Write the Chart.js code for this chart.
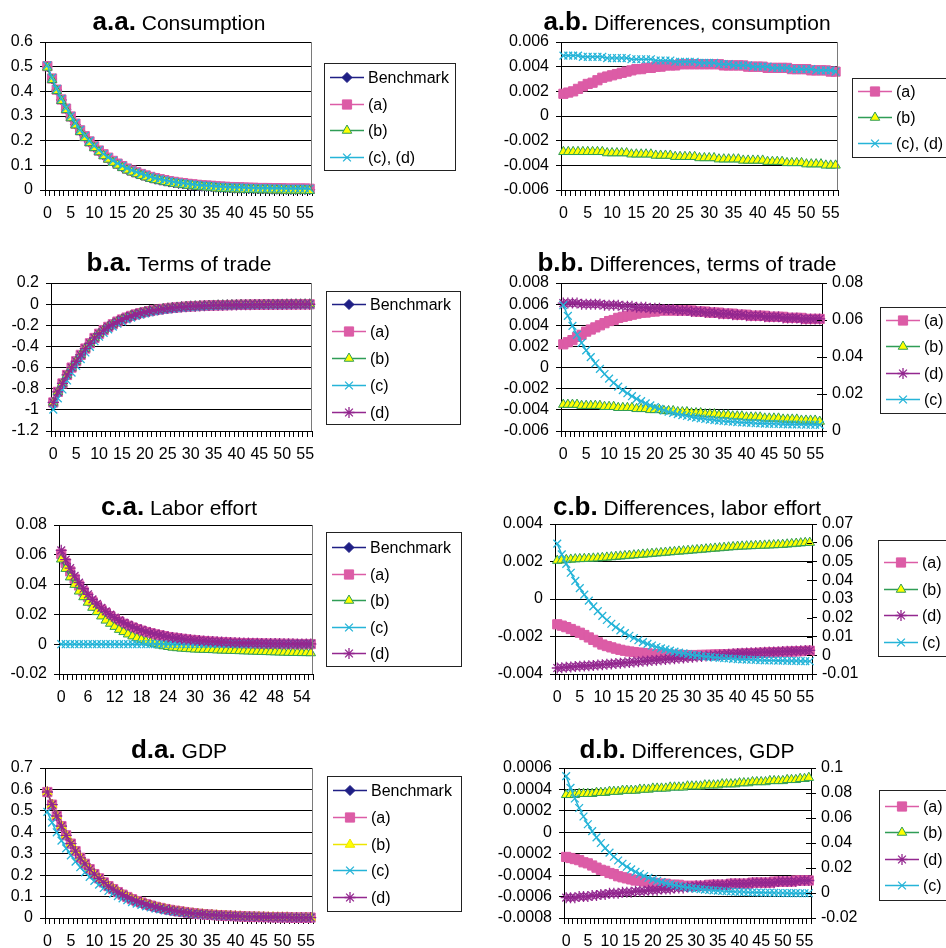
<!DOCTYPE html>
<html>
<head>
<meta charset="utf-8">
<script src="https://cdn.jsdelivr.net/npm/chart.js@4.4.1/dist/chart.umd.min.js"></script>
<style>
  html, body { margin: 0; padding: 0; background: #fff; }
  body { width: 946px; height: 948px; position: relative; overflow: hidden; }
  canvas { position: absolute; }
</style>
</head>
<body>
<canvas id="pAA"></canvas>
<canvas id="pAB"></canvas>
<canvas id="pBA"></canvas>
<canvas id="pBB"></canvas>
<canvas id="pCA"></canvas>
<canvas id="pCB"></canvas>
<canvas id="pDA"></canvas>
<canvas id="pDB"></canvas>
<script>
// Periods after the shock (x-axis categories)
const periods = ['0','1','2','3','4','5','6','7','8','9','10','11','12','13','14','15','16','17','18','19',
  '20','21','22','23','24','25','26','27','28','29','30','31','32','33','34','35','36','37','38','39',
  '40','41','42','43','44','45','46','47','48','49','50','51','52','53','54','55','56'];

// ---- a.a Consumption (levels)
const consBench = [.500,.450,.405,.365,.328,.295,.266,.239,.215,.194,.174,.157,.141,.127,.114,.103,.093,.083,.075,.068,
  .061,.055,.049,.044,.040,.036,.032,.029,.026,.024,.021,.019,.017,.015,.014,.013,.011,.010,.009,.008,
  .007,.007,.006,.005,.005,.004,.004,.004,.003,.003,.003,.002,.002,.002,.002,.002,.001];
const consA = [.502,.452,.407,.367,.330,.298,.269,.242,.218,.197,.177,.160,.145,.131,.118,.107,.097,.087,.079,.072,
  .065,.059,.053,.048,.044,.040,.036,.033,.030,.028,.025,.023,.021,.019,.018,.017,.015,.014,.013,.012,
  .011,.011,.010,.009,.009,.008,.008,.008,.007,.007,.007,.006,.006,.006,.006,.006,.005];
const consB = [.497,.447,.402,.362,.325,.292,.263,.236,.212,.191,.171,.154,.138,.124,.111,.100,.090,.080,.072,.065,
  .058,.052,.046,.041,.037,.033,.029,.026,.023,.021,.018,.016,.014,.012,.011,.010,.007,.006,.005,.004,
  .003,.003,.002,.001,.001,.000,.000,.000,-.001,-.001,-.001,-.002,-.002,-.002,-.002,-.002,-.003];
const consCD = [.505,.455,.410,.370,.333,.300,.271,.244,.220,.199,.179,.162,.146,.132,.119,.108,.098,.088,.080,.073,
  .066,.060,.054,.048,.044,.040,.036,.033,.030,.028,.025,.023,.021,.019,.018,.017,.015,.014,.013,.012,
  .011,.011,.010,.009,.009,.008,.008,.008,.007,.007,.007,.006,.006,.006,.006,.006,.005];

// ---- a.b Differences, consumption
const consDiffA = [.0018,.0019,.0020,.0022,.0024,.0026,.0027,.0029,.0031,.0032,.0033,.0034,.0035,.0036,.0037,.0038,.0038,.0039,.0039,.0040,
  .0040,.0041,.0041,.0041,.0042,.0042,.0042,.0042,.0042,.0042,.0042,.0042,.0042,.0041,.0041,.0041,.0041,.0041,.0040,.0040,
  .0040,.0040,.0039,.0039,.0039,.0039,.0039,.0038,.0038,.0038,.0038,.0037,.0037,.0037,.0037,.0036,.0036];
const consDiffB = [-.0029,-.0029,-.0029,-.0029,-.0029,-.0029,-.0029,-.0029,-.0029,-.0030,-.0030,-.0030,-.0030,-.0030,-.0031,-.0031,-.0031,-.0031,-.0031,-.0032,
  -.0032,-.0032,-.0032,-.0033,-.0033,-.0033,-.0033,-.0033,-.0034,-.0034,-.0034,-.0034,-.0035,-.0035,-.0035,-.0035,-.0035,-.0036,-.0036,-.0036,
  -.0036,-.0036,-.0037,-.0037,-.0037,-.0037,-.0038,-.0038,-.0038,-.0038,-.0039,-.0039,-.0039,-.0039,-.0040,-.0040,-.0040];
const consDiffCD = [.0049,.0049,.0049,.0049,.0048,.0048,.0048,.0048,.0048,.0047,.0047,.0047,.0047,.0047,.0046,.0046,.0046,.0046,.0046,.0045,
  .0045,.0045,.0045,.0044,.0044,.0044,.0044,.0044,.0043,.0043,.0043,.0043,.0042,.0042,.0042,.0041,.0041,.0041,.0041,.0040,
  .0040,.0040,.0040,.0039,.0039,.0039,.0039,.0038,.0038,.0038,.0038,.0038,.0037,.0037,.0037,.0037,.0036];

// ---- b.a Terms of trade (levels); (a), (b), (d) stay within 0.006 of the benchmark path
const totBench = [-.930,-.830,-.750,-.670,-.600,-.540,-.480,-.420,-.370,-.320,-.280,-.245,-.215,-.190,-.165,-.145,-.127,-.111,-.097,-.085,
  -.075,-.066,-.058,-.051,-.045,-.040,-.035,-.031,-.027,-.024,-.021,-.019,-.017,-.015,-.013,-.012,-.011,-.010,-.009,-.008,
  -.007,-.006,-.0055,-.005,-.0045,-.004,-.0036,-.0032,-.0029,-.0026,-.0023,-.0021,-.0019,-.0017,-.0015,-.0014,-.0012];
const totC = [-.998,-.892,-.807,-.722,-.648,-.584,-.520,-.457,-.404,-.351,-.308,-.271,-.239,-.212,-.185,-.164,-.144,-.127,-.112,-.099,
  -.088,-.078,-.069,-.061,-.055,-.049,-.044,-.039,-.035,-.031,-.028,-.026,-.023,-.021,-.019,-.017,-.016,-.015,-.014,-.013,
  -.012,-.010,-.010,-.009,-.009,-.008,-.008,-.007,-.007,-.006,-.006,-.006,-.005,-.005,-.005,-.005,-.005];

// ---- b.b Differences, terms of trade ((c) on the right axis)
const totDiffA = [.0022,.0024,.0026,.0029,.0031,.0034,.0036,.0038,.0040,.0042,.0044,.0045,.0047,.0048,.0049,.0050,.0051,.0052,.0052,.0053,
  .0053,.0054,.0054,.0054,.0054,.0054,.0054,.0054,.0054,.0053,.0053,.0053,.0052,.0052,.0052,.0051,.0051,.0051,.0050,.0050,
  .0050,.0049,.0049,.0049,.0049,.0048,.0048,.0048,.0048,.0047,.0047,.0047,.0047,.0046,.0046,.0046,.0046];
const totDiffB = [-.0035,-.0035,-.0035,-.0035,-.0036,-.0036,-.0036,-.0036,-.0036,-.0037,-.0037,-.0037,-.0038,-.0038,-.0038,-.0038,-.0039,-.0039,-.0039,-.0040,
  -.0040,-.0040,-.0041,-.0041,-.0041,-.0042,-.0042,-.0042,-.0043,-.0043,-.0043,-.0044,-.0044,-.0044,-.0045,-.0045,-.0045,-.0046,-.0046,-.0046,
  -.0047,-.0047,-.0047,-.0047,-.0048,-.0048,-.0048,-.0048,-.0049,-.0049,-.0049,-.0049,-.0050,-.0050,-.0050,-.0050,-.0051];
const totDiffD = [.0061,.0061,.0061,.0061,.0060,.0060,.0060,.0060,.0060,.0059,.0059,.0059,.0059,.0058,.0058,.0058,.0057,.0057,.0057,.0056,
  .0056,.0056,.0055,.0055,.0055,.0054,.0054,.0054,.0053,.0053,.0053,.0052,.0052,.0052,.0051,.0051,.0051,.0050,.0050,.0050,
  .0049,.0049,.0049,.0049,.0048,.0048,.0048,.0048,.0047,.0047,.0047,.0047,.0046,.0046,.0046,.0046,.0046];
const totDiffC = [.0680,.0622,.0568,.0520,.0476,.0436,.0399,.0366,.0336,.0308,.0283,.0260,.0240,.0221,.0204,.0188,.0174,.0161,.0149,.0138,
  .0129,.0120,.0112,.0104,.0098,.0091,.0086,.0081,.0076,.0072,.0068,.0065,.0062,.0059,.0056,.0054,.0052,.0050,.0048,.0046,
  .0045,.0044,.0042,.0041,.0040,.0039,.0039,.0038,.0037,.0036,.0036,.0035,.0035,.0034,.0034,.0034,.0033];

// ---- c.a Labor effort (levels)
const laborBench = [.0600,.0539,.0485,.0436,.0391,.0352,.0316,.0284,.0256,.0231,.0208,.0187,.0168,.0151,.0136,.0123,.0111,.0100,.0090,.0081,
  .0073,.0066,.0059,.0053,.0048,.0043,.0039,.0035,.0032,.0029,.0026,.0023,.0020,.0018,.0016,.0015,.0013,.0011,.0010,.0009,
  .0008,.0007,.0006,.0005,.0005,.0004,.0003,.0003,.0003,.0002,.0002,.0002,.0001,.0001,.0001,.0001,.0000];
const laborA = [.0606,.0544,.0489,.0439,.0394,.0354,.0318,.0286,.0257,.0232,.0209,.0188,.0169,.0152,.0137,.0124,.0112,.0101,.0091,.0082,
  .0074,.0066,.0060,.0054,.0048,.0044,.0040,.0036,.0032,.0029,.0026,.0023,.0021,.0018,.0017,.0015,.0013,.0012,.0010,.0009,
  .0008,.0007,.0007,.0006,.0005,.0004,.0004,.0003,.0003,.0003,.0002,.0002,.0002,.0001,.0001,.0001,.0001];
const laborB = [.0570,.0507,.0450,.0400,.0355,.0317,.0280,.0246,.0217,.0188,.0160,.0139,.0118,.0098,.0083,.0067,.0054,.0042,.0031,.0020,
  .0011,.0002,-.0007,-.0012,-.0017,-.0022,-.0025,-.0028,-.0030,-.0032,-.0034,-.0035,-.0036,-.0037,-.0038,-.0040,-.0041,-.0042,-.0043,-.0044,
  -.0045,-.0046,-.0047,-.0048,-.0049,-.0050,-.0051,-.0052,-.0053,-.0054,-.0055,-.0056,-.0057,-.0057,-.0058,-.0058,-.0059];
const laborC = [.0000,.0000,.0000,.0000,.0000,.0000,.0000,.0000,.0000,.0000,.0000,.0000,.0000,.0000,.0000,.0000,.0000,.0000,.0000,.0000,
  .0001,.0001,.0001,.0001,.0001,.0001,.0001,.0001,.0001,.0001,.0002,.0002,.0002,.0002,.0002,.0002,.0002,.0002,.0002,.0002,
  .0002,.0002,.0002,.0002,.0002,.0002,.0002,.0002,.0002,.0002,.0002,.0002,.0002,.0002,.0002,.0002,.0002];
const laborD = [.0630,.0567,.0510,.0459,.0413,.0372,.0335,.0301,.0271,.0244,.0220,.0198,.0178,.0160,.0144,.0130,.0117,.0105,.0095,.0085,
  .0077,.0069,.0062,.0056,.0050,.0045,.0041,.0037,.0033,.0030,.0027,.0024,.0022,.0019,.0018,.0016,.0014,.0013,.0011,.0010,
  .0009,.0008,.0008,.0007,.0006,.0005,.0005,.0004,.0004,.0004,.0003,.0003,.0003,.0002,.0002,.0002,.0002];

// ---- c.b Differences, labor effort ((c) on the right axis)
const laborDiffA = [-.00135,-.00142,-.00150,-.00160,-.00170,-.00180,-.00192,-.00205,-.00218,-.00231,-.00243,-.00251,-.00258,-.00265,-.00271,-.00276,-.00280,-.00283,-.00286,-.00288,
  -.00290,-.00292,-.00294,-.00295,-.00296,-.00297,-.00298,-.00298,-.00299,-.00299,-.00299,-.00299,-.00298,-.00298,-.00297,-.00296,-.00296,-.00295,-.00294,-.00293,
  -.00292,-.00291,-.00290,-.00289,-.00288,-.00287,-.00286,-.00285,-.00284,-.00283,-.00282,-.00281,-.00280,-.00279,-.00278,-.00277,-.00276];
const laborDiffB = [.00205,.00207,.00209,.00211,.00213,.00214,.00215,.00216,.00217,.00218,.00220,.00222,.00224,.00226,.00228,.00230,.00232,.00234,.00236,.00238,
  .00240,.00242,.00244,.00246,.00248,.00250,.00252,.00254,.00256,.00258,.00260,.00262,.00264,.00266,.00268,.00270,.00272,.00274,.00276,.00278,
  .00280,.00281,.00282,.00283,.00284,.00285,.00286,.00287,.00288,.00289,.00290,.00292,.00294,.00296,.00298,.00300,.00301];
const laborDiffD = [-.00368,-.00366,-.00364,-.00362,-.00360,-.00358,-.00357,-.00356,-.00354,-.00352,-.00350,-.00348,-.00346,-.00344,-.00342,-.00340,-.00338,-.00336,-.00334,-.00332,
  -.00330,-.00328,-.00326,-.00324,-.00322,-.00320,-.00318,-.00316,-.00314,-.00312,-.00310,-.00308,-.00306,-.00304,-.00302,-.00300,-.00298,-.00296,-.00294,-.00292,
  -.00290,-.00289,-.00288,-.00287,-.00286,-.00285,-.00284,-.00283,-.00282,-.00281,-.00280,-.00279,-.00278,-.00277,-.00276,-.00275,-.00274];
const laborDiffC = [.0595,.0538,.0487,.0440,.0397,.0358,.0323,.0291,.0261,.0235,.0210,.0188,.0168,.0150,.0133,.0118,.0104,.0092,.0080,.0070,
  .0061,.0052,.0044,.0037,.0031,.0025,.0019,.0014,.0010,.0006,.0002,-.0001,-.0004,-.0007,-.0009,-.0012,-.0014,-.0016,-.0017,-.0019,
  -.0021,-.0022,-.0023,-.0024,-.0025,-.0026,-.0027,-.0028,-.0028,-.0029,-.0029,-.0030,-.0030,-.0030,-.0031,-.0031,-.0032];

// ---- d.a GDP (levels); (a), (b), (d) stay within 0.001 of the benchmark path
const gdpBench = [.588,.529,.476,.429,.386,.347,.312,.281,.253,.228,.205,.185,.166,.149,.135,.121,.109,.098,.088,.079,
  .072,.064,.058,.052,.047,.042,.038,.034,.031,.028,.025,.022,.020,.018,.016,.015,.013,.012,.011,.010,
  .009,.008,.007,.006,.006,.005,.005,.004,.004,.003,.003,.003,.002,.002,.002,.002,.002];
const gdpC = [.495,.445,.400,.361,.325,.292,.263,.237,.213,.192,.173,.156,.140,.126,.114,.102,.092,.083,.074,.067,
  .061,.054,.049,.044,.040,.036,.032,.029,.027,.024,.022,.019,.017,.016,.014,.013,.011,.011,.010,.009,
  .008,.007,.006,.006,.006,.005,.005,.004,.004,.003,.003,.003,.002,.002,.002,.002,.002];

// ---- d.b Differences, GDP ((c) on the right axis)
const gdpDiffA = [-.00023,-.00024,-.00025,-.00026,-.00028,-.00029,-.00031,-.00033,-.00035,-.00036,-.00038,-.00039,-.00041,-.00042,-.00043,-.00044,-.00045,-.00045,-.00046,-.00047,
  -.00047,-.00048,-.00048,-.00048,-.00049,-.00049,-.00049,-.00050,-.00050,-.00050,-.00050,-.00050,-.00050,-.00049,-.00049,-.00049,-.00049,-.00049,-.00048,-.00048,
  -.00048,-.00048,-.00048,-.00047,-.00047,-.00047,-.00047,-.00047,-.00046,-.00046,-.00046,-.00046,-.00046,-.00045,-.00045,-.00045,-.00045];
const gdpDiffB = [.00035,.00035,.00035,.00036,.00036,.00036,.00036,.00037,.00037,.00037,.00038,.00038,.00038,.00039,.00039,.00039,.00039,.00040,.00040,.00040,
  .00041,.00041,.00041,.00041,.00042,.00042,.00042,.00042,.00043,.00043,.00043,.00043,.00044,.00044,.00044,.00044,.00045,.00045,.00045,.00045,
  .00046,.00046,.00046,.00047,.00047,.00047,.00047,.00048,.00048,.00048,.00048,.00049,.00049,.00049,.00050,.00050,.00051];
const gdpDiffD = [-.00061,-.00061,-.00061,-.00060,-.00060,-.00060,-.00059,-.00059,-.00058,-.00058,-.00057,-.00057,-.00057,-.00056,-.00056,-.00056,-.00055,-.00055,-.00055,-.00054,
  -.00054,-.00054,-.00053,-.00053,-.00053,-.00052,-.00052,-.00052,-.00051,-.00051,-.00050,-.00050,-.00050,-.00050,-.00049,-.00049,-.00049,-.00049,-.00048,-.00048,
  -.00048,-.00048,-.00048,-.00047,-.00047,-.00047,-.00047,-.00047,-.00047,-.00046,-.00046,-.00046,-.00046,-.00046,-.00045,-.00045,-.00045];
const gdpDiffC = [.0935,.0841,.0756,.0680,.0612,.0550,.0495,.0445,.0400,.0359,.0323,.0290,.0260,.0234,.0210,.0189,.0169,.0152,.0136,.0122,
  .0109,.0098,.0088,.0078,.0070,.0062,.0056,.0050,.0044,.0039,.0035,.0031,.0027,.0024,.0021,.0019,.0016,.0014,.0012,.0010,
  .0009,.0008,.0006,.0005,.0004,.0003,.0002,.0002,.0001,.0000,.0000,-.0001,-.0001,-.0001,-.0002,-.0002,-.0002];

// ---------------------------------------------------------------------------
const FONT = '"Liberation Sans", Arial, Helvetica, sans-serif';
Chart.defaults.font.family = FONT;
Chart.defaults.font.size = 16;
Chart.defaults.color = '#000';

// Series looks: line colour, marker fill, marker shape, marker radius
const LOOK = {
  bench:   { color: '#1F1F85', fill: '#1F1F85', point: 'rectRot',  r: 5 },
  a:       { color: '#DC5CA6', fill: '#DC5CA6', point: 'rect',     r: 6.5 },
  b:       { color: '#2F9D56', fill: '#FFFF00', point: 'triangle', r: 5.5 },
  bYellow: { color: '#EDE500', fill: '#FFFF00', point: 'triangle', r: 5.5 },
  c:       { color: '#25B4D8', fill: '#25B4D8', point: 'crossRot', r: 5.5 },
  d:       { color: '#93278F', fill: '#93278F', point: 'star',     r: 5.5 }
};

// Panel geometry (page pixels): canvas box, plot area [left, top, right, bottom]
const panels = [
  { id: 'pAA', box: [0, 0, 470, 238], plot: [45, 42, 312, 190], head: ['a.a.', 'Consumption'], headAt: [179, 30], every: 5,
    left: { min: 0, max: 0.6, step: 0.1 },
    series: [['Benchmark', consBench, 'bench'], ['(a)', consA, 'a'], ['(b)', consB, 'b'], ['(c), (d)', consCD, 'c']],
    legend: { x: 324, top: 63, bottom: 170, right: 455, y0: 77, dy: 26.7, order: [0, 1, 2, 3] } },
  { id: 'pAB', box: [470, 0, 476, 238], plot: [561, 42, 838, 190], head: ['a.b.', 'Differences, consumption'], headAt: [687, 30], every: 5,
    left: { min: -0.006, max: 0.006, step: 0.002 },
    series: [['(a)', consDiffA, 'a'], ['(b)', consDiffB, 'b'], ['(c), (d)', consDiffCD, 'c']],
    legend: { x: 852, top: 78, bottom: 157, right: 960, y0: 91, dy: 26, order: [0, 1, 2] } },
  { id: 'pBA', box: [0, 238, 470, 244], plot: [51, 283, 312, 431], head: ['b.a.', 'Terms of trade'], headAt: [179, 270.5], every: 5,
    left: { min: -1.2, max: 0.2, step: 0.2 },
    series: [['Benchmark', totBench, 'bench'], ['(a)', totBench, 'a'], ['(b)', totBench, 'b'], ['(c)', totC, 'c'], ['(d)', totBench, 'd']],
    legend: { x: 326, top: 291, bottom: 424, right: 460, y0: 304, dy: 27, order: [0, 1, 2, 3, 4] } },
  { id: 'pBB', box: [470, 238, 476, 244], plot: [561, 283, 822, 431], head: ['b.b.', 'Differences, terms of trade'], headAt: [687, 270.5], every: 5,
    left: { min: -0.006, max: 0.008, step: 0.002 }, right: { min: 0, max: 0.08, step: 0.02 },
    series: [['(a)', totDiffA, 'a'], ['(b)', totDiffB, 'b'], ['(d)', totDiffD, 'd'], ['(c)', totDiffC, 'c', 'r']],
    legend: { x: 880, top: 307, bottom: 413, right: 960, y0: 320, dy: 26.3, order: [0, 1, 2, 3] } },
  { id: 'pCA', box: [0, 482, 470, 236], plot: [59, 525, 313, 674], head: ['c.a.', 'Labor effort'], headAt: [179, 514.5], every: 6,
    left: { min: -0.02, max: 0.08, step: 0.02 },
    series: [['Benchmark', laborBench, 'bench'], ['(a)', laborA, 'a'], ['(b)', laborB, 'b'], ['(c)', laborC, 'c'], ['(d)', laborD, 'd']],
    legend: { x: 326, top: 532, bottom: 666, right: 461, y0: 547, dy: 26.5, order: [0, 1, 2, 3, 4] } },
  { id: 'pCB', box: [470, 482, 476, 236], plot: [555, 524, 812, 674], head: ['c.b.', 'Differences, labor effort'], headAt: [687, 514.5], every: 5,
    left: { min: -0.004, max: 0.004, step: 0.002 }, right: { min: -0.01, max: 0.07, step: 0.01 },
    series: [['(a)', laborDiffA, 'a'], ['(b)', laborDiffB, 'b'], ['(d)', laborDiffD, 'd'], ['(c)', laborDiffC, 'c', 'r']],
    legend: { x: 878, top: 540, bottom: 656, right: 960, y0: 562, dy: 26.7, order: [0, 1, 2, 3] } },
  { id: 'pDA', box: [0, 718, 470, 230], plot: [45, 768, 313, 918], head: ['d.a.', 'GDP'], headAt: [179, 758], every: 5,
    left: { min: 0, max: 0.7, step: 0.1 },
    series: [['Benchmark', gdpBench, 'bench'], ['(a)', gdpBench, 'a'], ['(b)', gdpBench, 'bYellow'], ['(c)', gdpC, 'c'], ['(d)', gdpBench, 'd']],
    legend: { x: 327, top: 776, bottom: 911, right: 461, y0: 790, dy: 26.8, order: [0, 1, 2, 3, 4] } },
  { id: 'pDB', box: [470, 718, 476, 230], plot: [564, 768, 811, 918], head: ['d.b.', 'Differences, GDP'], headAt: [687, 758], every: 5,
    left: { min: -0.0008, max: 0.0006, step: 0.0002 }, right: { min: -0.02, max: 0.1, step: 0.02 },
    series: [['(a)', gdpDiffA, 'a'], ['(b)', gdpDiffB, 'b'], ['(d)', gdpDiffD, 'd'], ['(c)', gdpDiffC, 'c', 'r']],
    legend: { x: 879, top: 790, bottom: 900, right: 960, y0: 806, dy: 26.3, order: [0, 1, 2, 3] } }
];

const panelById = {};
panels.forEach(p => { panelById[p.id] = p; });

function tickText(v) { return String(Number(Number(v).toFixed(6))); }

function marker(ctx, ds, x, y) {
  ctx.save();
  ctx.fillStyle = ds.pointBackgroundColor;
  ctx.strokeStyle = ds.pointBorderColor;
  ctx.lineWidth = ds.pointBorderWidth;
  if (Chart.helpers && Chart.helpers.drawPoint) {
    Chart.helpers.drawPoint(ctx, { pointStyle: ds.pointStyle, rotation: 0, radius: ds.pointRadius, borderWidth: ds.pointBorderWidth }, x, y);
  } else {
    ctx.fillRect(x - 4, y - 4, 8, 8);
  }
  ctx.restore();
}

// Frame, inner ticks of the secondary axis, two-part title and boxed legend
const panelDecor = {
  id: 'panelDecor',
  afterDraw(chart) {
    const p = panelById[chart.canvas.id];
    if (!p) return;
    const ctx = chart.ctx;
    const [bx, by] = p.box;
    const area = chart.chartArea;
    ctx.save();

    if (!p.right) {
      ctx.strokeStyle = '#7a7a7a';
      ctx.lineWidth = 1;
      ctx.beginPath();
      ctx.moveTo(Math.round(area.right) - 0.5, area.top);
      ctx.lineTo(Math.round(area.right) - 0.5, area.bottom);
      ctx.stroke();
    } else {
      const yR = chart.scales.yR;
      ctx.strokeStyle = '#000';
      ctx.lineWidth = 1;
      yR.ticks.forEach(t => {
        const yy = Math.round(yR.getPixelForValue(t.value)) + 0.5;
        ctx.beginPath();
        ctx.moveTo(area.right - 5, yy);
        ctx.lineTo(area.right, yy);
        ctx.stroke();
      });
    }

    // title: bold panel tag followed by regular caption
    ctx.fillStyle = '#000';
    ctx.textBaseline = 'alphabetic';
    ctx.textAlign = 'left';
    ctx.font = 'bold 26px ' + FONT;
    const w1 = ctx.measureText(p.head[0]).width;
    ctx.font = '21px ' + FONT;
    const cap = ' ' + p.head[1];
    const w2 = ctx.measureText(cap).width;
    const x0 = p.headAt[0] - bx - (w1 + w2) / 2;
    const base = p.headAt[1] - by;
    ctx.font = 'bold 26px ' + FONT;
    ctx.fillText(p.head[0], x0, base);
    ctx.font = '21px ' + FONT;
    ctx.fillText(cap, x0 + w1, base);

    // legend box
    const lg = p.legend;
    const lx = lg.x - bx;
    ctx.fillStyle = '#fff';
    ctx.fillRect(lx, lg.top - by, lg.right - lg.x, lg.bottom - lg.top);
    ctx.strokeStyle = '#222';
    ctx.lineWidth = 1;
    ctx.strokeRect(lx + 0.5, lg.top - by + 0.5, lg.right - lg.x, lg.bottom - lg.top);
    ctx.font = '16px ' + FONT;
    ctx.textBaseline = 'middle';
    lg.order.forEach((di, k) => {
      const ds = chart.data.datasets[di];
      const yy = Math.round(lg.y0 + k * lg.dy - by) + 0.5;
      ctx.strokeStyle = ds.borderColor;
      ctx.lineWidth = 1.5;
      ctx.beginPath();
      ctx.moveTo(lx + 6, yy);
      ctx.lineTo(lx + 40, yy);
      ctx.stroke();
      marker(ctx, ds, lx + 23, yy);
      ctx.fillStyle = '#000';
      ctx.fillText(ds.label, lx + 44, yy + 1);
    });
    ctx.restore();
  }
};

function build(p) {
  const cv = document.getElementById(p.id);
  const [bx, by, bw, bh] = p.box;
  const [L, T, R, B] = p.plot;
  cv.width = bw; cv.height = bh;
  cv.style.left = bx + 'px'; cv.style.top = by + 'px';
  cv.style.width = bw + 'px'; cv.style.height = bh + 'px';
  const n = p.series.length;

  const datasets = p.series.map((s, i) => {
    const lk = LOOK[s[2]];
    const thin = lk.point === 'crossRot' || lk.point === 'star';
    return {
      label: s[0], data: s[1], yAxisID: s[3] === 'r' ? 'yR' : 'y', order: n - i,
      borderColor: lk.color, backgroundColor: lk.fill, borderWidth: 1.5,
      pointStyle: lk.point, pointRadius: lk.r, pointHoverRadius: lk.r,
      pointBorderColor: lk.color, pointBackgroundColor: lk.fill, pointBorderWidth: thin ? 1.3 : 1,
      tension: 0, fill: false, clip: false
    };
  });

  const scales = {
    x: {
      type: 'category', offset: true,
      grid: { display: true, drawOnChartArea: false, drawTicks: true, tickLength: 6, offset: true, color: '#000', lineWidth: 1 },
      border: { display: true, color: '#000', width: 1 },
      ticks: {
        autoSkip: false, maxRotation: 0, minRotation: 0, padding: 8, color: '#000', font: { size: 16 },
        callback: function (v, i) { return i % p.every === 0 ? this.getLabelForValue(v) : ''; }
      },
      afterFit: s => { s.height = by + bh - B; }
    },
    y: {
      type: 'linear', position: 'left', min: p.left.min, max: p.left.max,
      grid: { color: '#000', lineWidth: 1, drawTicks: true, tickLength: 5 },
      border: { display: true, color: '#000', width: 1 },
      ticks: { stepSize: p.left.step, autoSkip: false, padding: 7, color: '#000', font: { size: 16 }, callback: tickText },
      afterFit: s => { s.width = L - bx; }
    }
  };
  if (p.right) {
    scales.yR = {
      type: 'linear', position: 'right', min: p.right.min, max: p.right.max,
      grid: { drawOnChartArea: false, drawTicks: true, tickLength: 5, color: '#000', lineWidth: 1 },
      border: { display: true, color: '#000', width: 1 },
      ticks: { stepSize: p.right.step, autoSkip: false, padding: 5, color: '#000', font: { size: 16 }, callback: tickText },
      afterFit: s => { s.width = bx + bw - R; }
    };
  }

  new Chart(cv, {
    type: 'line',
    data: { labels: periods, datasets },
    options: {
      responsive: false, animation: false, devicePixelRatio: 1, events: [],
      layout: { padding: { top: T - by, left: 0, right: p.right ? 0 : bx + bw - R, bottom: 0 } },
      plugins: { legend: { display: false }, tooltip: { enabled: false }, title: { display: false } },
      scales
    },
    plugins: [panelDecor]
  });
}

panels.forEach(build);
</script>
</body>
</html>
